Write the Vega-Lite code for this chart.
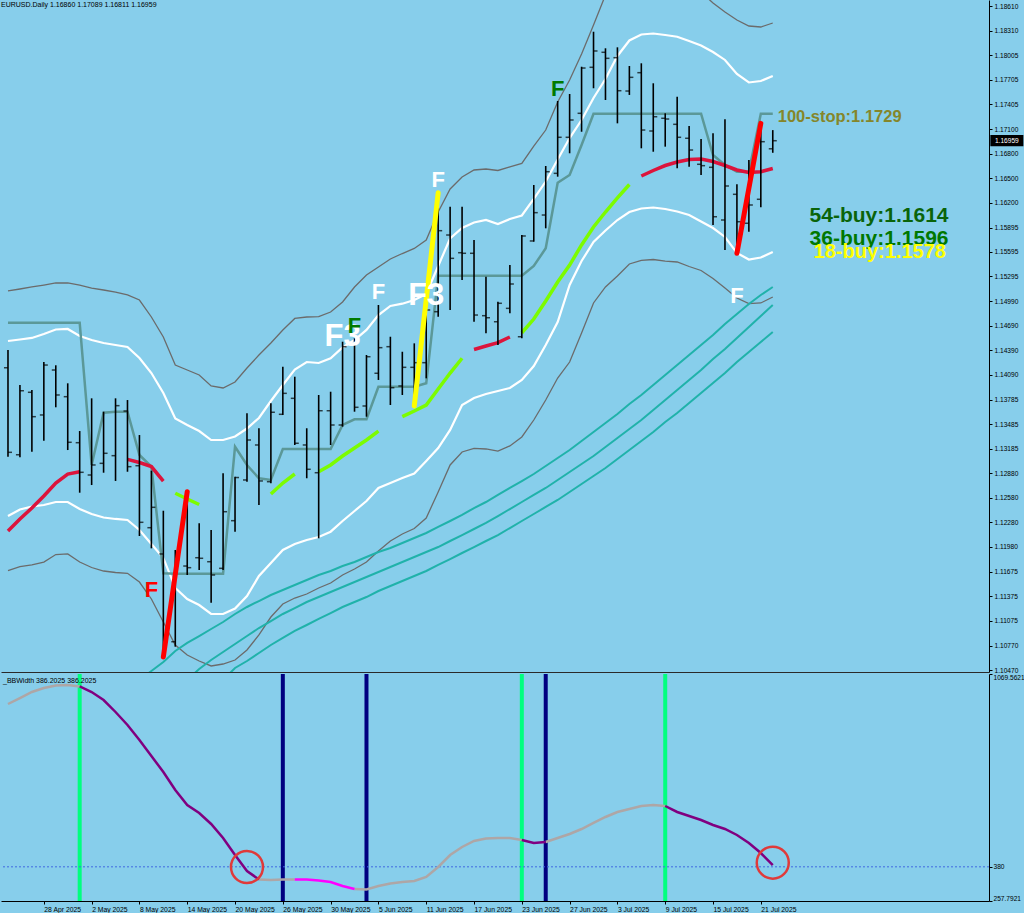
{
"$schema": "https://vega.github.io/schema/vega-lite/v6.json",
"background": "#87CEEB",
"padding": 0,
"spacing": 2,
"bounds": "flush",
"config": {"view": {"stroke": null}, "axis": {"labelFont": "Liberation Sans", "labelFontSize": 6.6, "labelColor": "#000000", "domainColor": "#000000", "tickColor": "#000000", "grid": false, "labelOverlap": false}, "text": {"font": "Liberation Sans"}},
"resolve": {"scale": {"x": "independent", "y": "independent"}},
"datasets": {
"bars": [
{"d":"2025-04-23","o":1.14176,"h":1.14393,"l":1.13085,"c":1.13139},
{"d":"2025-04-24","o":1.13110,"h":1.13964,"l":1.13080,"c":1.13894},
{"d":"2025-04-25","o":1.13875,"h":1.13903,"l":1.13147,"c":1.13576},
{"d":"2025-04-28","o":1.13597,"h":1.14246,"l":1.13281,"c":1.14209},
{"d":"2025-04-29","o":1.14148,"h":1.14206,"l":1.13691,"c":1.13842},
{"d":"2025-04-30","o":1.13821,"h":1.13985,"l":1.13167,"c":1.13262},
{"d":"2025-05-01","o":1.13257,"h":1.13400,"l":1.12644,"c":1.12894},
{"d":"2025-05-02","o":1.12861,"h":1.13801,"l":1.12738,"c":1.12984},
{"d":"2025-05-05","o":1.13004,"h":1.13637,"l":1.12889,"c":1.13127},
{"d":"2025-05-06","o":1.13098,"h":1.13801,"l":1.12788,"c":1.13711},
{"d":"2025-05-07","o":1.13645,"h":1.13780,"l":1.12901,"c":1.12963},
{"d":"2025-05-08","o":1.12975,"h":1.13351,"l":1.12113,"c":1.12281},
{"d":"2025-05-09","o":1.12215,"h":1.12914,"l":1.11962,"c":1.12465},
{"d":"2025-05-12","o":1.11893,"h":1.12423,"l":1.10630,"c":1.10879},
{"d":"2025-05-13","o":1.10817,"h":1.11942,"l":1.10756,"c":1.11819},
{"d":"2025-05-14","o":1.11745,"h":1.12656,"l":1.11635,"c":1.11725},
{"d":"2025-05-15","o":1.11847,"h":1.12269,"l":1.11696,"c":1.11840},
{"d":"2025-05-16","o":1.11798,"h":1.12187,"l":1.11296,"c":1.11635},
{"d":"2025-05-19","o":1.11717,"h":1.12882,"l":1.11696,"c":1.12411},
{"d":"2025-05-20","o":1.12301,"h":1.12840,"l":1.12166,"c":1.12830},
{"d":"2025-05-21","o":1.12800,"h":1.13617,"l":1.12779,"c":1.13290},
{"d":"2025-05-22","o":1.13229,"h":1.13434,"l":1.12493,"c":1.12788},
{"d":"2025-05-23","o":1.12779,"h":1.13740,"l":1.12759,"c":1.13630},
{"d":"2025-05-26","o":1.13605,"h":1.14189,"l":1.13597,"c":1.13862},
{"d":"2025-05-27","o":1.13801,"h":1.14066,"l":1.13229,"c":1.13250},
{"d":"2025-05-28","o":1.13229,"h":1.13434,"l":1.12821,"c":1.12931},
{"d":"2025-05-29","o":1.12889,"h":1.13842,"l":1.12085,"c":1.13649},
{"d":"2025-05-30","o":1.13649,"h":1.13882,"l":1.13229,"c":1.13474},
{"d":"2025-06-02","o":1.13474,"h":1.14495,"l":1.13453,"c":1.14434},
{"d":"2025-06-03","o":1.14463,"h":1.14537,"l":1.13637,"c":1.13691},
{"d":"2025-06-04","o":1.13707,"h":1.14332,"l":1.13576,"c":1.14311},
{"d":"2025-06-05","o":1.14108,"h":1.14945,"l":1.14026,"c":1.14422},
{"d":"2025-06-06","o":1.14434,"h":1.14556,"l":1.13719,"c":1.13931},
{"d":"2025-06-09","o":1.13952,"h":1.14372,"l":1.13842,"c":1.14181},
{"d":"2025-06-10","o":1.14181,"h":1.14475,"l":1.13707,"c":1.14238},
{"d":"2025-06-11","o":1.14238,"h":1.15006,"l":1.14046,"c":1.14884},
{"d":"2025-06-12","o":1.14863,"h":1.16320,"l":1.14802,"c":1.15856},
{"d":"2025-06-13","o":1.15803,"h":1.16150,"l":1.14884,"c":1.15517},
{"d":"2025-06-16","o":1.15586,"h":1.16150,"l":1.15251,"c":1.15579},
{"d":"2025-06-17","o":1.15579,"h":1.15742,"l":1.14740,"c":1.14822},
{"d":"2025-06-18","o":1.14814,"h":1.15292,"l":1.14598,"c":1.14789},
{"d":"2025-06-19","o":1.14740,"h":1.14985,"l":1.14455,"c":1.14966},
{"d":"2025-06-20","o":1.14904,"h":1.15435,"l":1.14843,"c":1.15202},
{"d":"2025-06-23","o":1.14556,"h":1.15803,"l":1.14537,"c":1.15791},
{"d":"2025-06-24","o":1.15730,"h":1.16416,"l":1.15721,"c":1.16077},
{"d":"2025-06-25","o":1.16048,"h":1.16649,"l":1.15885,"c":1.16579},
{"d":"2025-06-26","o":1.16559,"h":1.17446,"l":1.16518,"c":1.17001},
{"d":"2025-06-27","o":1.17001,"h":1.17532,"l":1.16805,"c":1.17213},
{"d":"2025-06-30","o":1.17295,"h":1.17866,"l":1.17069,"c":1.17850},
{"d":"2025-07-01","o":1.17859,"h":1.18295,"l":1.17602,"c":1.18059},
{"d":"2025-07-02","o":1.18043,"h":1.18092,"l":1.17458,"c":1.17969},
{"d":"2025-07-03","o":1.17977,"h":1.18104,"l":1.17172,"c":1.17572},
{"d":"2025-07-04","o":1.17568,"h":1.17875,"l":1.17520,"c":1.17736},
{"d":"2025-07-07","o":1.17793,"h":1.17908,"l":1.16866,"c":1.17090},
{"d":"2025-07-08","o":1.17078,"h":1.17663,"l":1.16824,"c":1.17253},
{"d":"2025-07-09","o":1.17234,"h":1.17295,"l":1.16886,"c":1.17225},
{"d":"2025-07-10","o":1.17160,"h":1.17499,"l":1.16621,"c":1.17001},
{"d":"2025-07-11","o":1.16989,"h":1.17139,"l":1.16640,"c":1.16845},
{"d":"2025-07-14","o":1.16670,"h":1.16980,"l":1.16539,"c":1.16653},
{"d":"2025-07-15","o":1.16633,"h":1.17050,"l":1.15926,"c":1.16027},
{"d":"2025-07-16","o":1.15987,"h":1.17222,"l":1.15619,"c":1.16404},
{"d":"2025-07-17","o":1.16302,"h":1.16425,"l":1.15579,"c":1.15966},
{"d":"2025-07-18","o":1.15947,"h":1.16723,"l":1.15844,"c":1.16171},
{"d":"2025-07-21","o":1.16241,"h":1.17172,"l":1.16143,"c":1.16947},
{"d":"2025-07-22","o":1.16860,"h":1.17089,"l":1.16811,"c":1.16959}
],
"bands": [
{"d":"2025-04-23","uw":1.14504,"lw":1.12358,"ug":1.15117,"lg":1.11690,"st":1.14728},
{"d":"2025-04-24","uw":1.14522,"lw":1.12438,"ug":1.15141,"lg":1.11739,"st":1.14728},
{"d":"2025-04-25","uw":1.14541,"lw":1.12475,"ug":1.15166,"lg":1.11758,"st":1.14728},
{"d":"2025-04-28","uw":1.14590,"lw":1.12493,"ug":1.15190,"lg":1.11794,"st":1.14728},
{"d":"2025-04-29","uw":1.14645,"lw":1.12530,"ug":1.15215,"lg":1.11886,"st":1.14728},
{"d":"2025-04-30","uw":1.14651,"lw":1.12530,"ug":1.15215,"lg":1.11893,"st":1.14728},
{"d":"2025-05-01","uw":1.14565,"lw":1.12444,"ug":1.15190,"lg":1.11794,"st":1.14728},
{"d":"2025-05-02","uw":1.14516,"lw":1.12383,"ug":1.15153,"lg":1.11727,"st":1.12984},
{"d":"2025-05-05","uw":1.14479,"lw":1.12340,"ug":1.15129,"lg":1.11684,"st":1.13625},
{"d":"2025-05-06","uw":1.14455,"lw":1.12322,"ug":1.15104,"lg":1.11666,"st":1.13637},
{"d":"2025-05-07","uw":1.14430,"lw":1.12309,"ug":1.15068,"lg":1.11656,"st":1.13637},
{"d":"2025-05-08","uw":1.14295,"lw":1.12187,"ug":1.15006,"lg":1.11549,"st":1.13106,"c1":1.10348},
{"d":"2025-05-09","uw":1.14111,"lw":1.12015,"ug":1.14798,"lg":1.11341,"st":1.12963,"c1":1.10458},
{"d":"2025-05-12","uw":1.13866,"lw":1.11844,"ug":1.14553,"lg":1.11059,"st":1.11656,"c1":1.10569},
{"d":"2025-05-13","uw":1.13554,"lw":1.11476,"ug":1.14209,"lg":1.10777,"st":1.11651,"c1":1.10703},
{"d":"2025-05-14","uw":1.13474,"lw":1.11341,"ug":1.14148,"lg":1.10654,"st":1.11651,"c1":1.10802,"c2":1.10348},
{"d":"2025-05-15","uw":1.13400,"lw":1.11267,"ug":1.14087,"lg":1.10581,"st":1.11651,"c1":1.10887,"c2":1.10483},
{"d":"2025-05-16","uw":1.13290,"lw":1.11157,"ug":1.13952,"lg":1.10520,"st":1.11651,"c1":1.10973,"c2":1.10593},
{"d":"2025-05-19","uw":1.13290,"lw":1.11157,"ug":1.13928,"lg":1.10544,"st":1.11651,"c1":1.11059,"c2":1.10691,"c3":1.10348},
{"d":"2025-05-20","uw":1.13333,"lw":1.11224,"ug":1.14001,"lg":1.10593,"st":1.13208,"c1":1.11157,"c2":1.10789,"c3":1.10495},
{"d":"2025-05-21","uw":1.13431,"lw":1.11378,"ug":1.14173,"lg":1.10716,"st":1.12984,"c1":1.11243,"c2":1.10887,"c3":1.10581},
{"d":"2025-05-22","uw":1.13560,"lw":1.11623,"ug":1.14332,"lg":1.10900,"st":1.12821,"c1":1.11316,"c2":1.10985,"c3":1.10679},
{"d":"2025-05-23","uw":1.13768,"lw":1.11782,"ug":1.14479,"lg":1.11120,"st":1.12800,"c1":1.11390,"c2":1.11071,"c3":1.10777},
{"d":"2025-05-26","uw":1.13964,"lw":1.11942,"ug":1.14639,"lg":1.11280,"st":1.13180,"c1":1.11451,"c2":1.11157,"c3":1.10863},
{"d":"2025-05-27","uw":1.14154,"lw":1.12015,"ug":1.14780,"lg":1.11353,"st":1.13180,"c1":1.11513,"c2":1.11230,"c3":1.10949},
{"d":"2025-05-28","uw":1.14246,"lw":1.12064,"ug":1.14798,"lg":1.11402,"st":1.13180,"c1":1.11574,"c2":1.11304,"c3":1.11022},
{"d":"2025-05-29","uw":1.14234,"lw":1.12101,"ug":1.14802,"lg":1.11476,"st":1.13180,"c1":1.11635,"c2":1.11365,"c3":1.11096},
{"d":"2025-05-30","uw":1.14292,"lw":1.12166,"ug":1.14859,"lg":1.11537,"st":1.13180,"c1":1.11684,"c2":1.11427,"c3":1.11169},
{"d":"2025-06-02","uw":1.14424,"lw":1.12297,"ug":1.14982,"lg":1.11635,"st":1.13474,"c1":1.11745,"c2":1.11488,"c3":1.11243},
{"d":"2025-06-03","uw":1.14516,"lw":1.12420,"ug":1.15166,"lg":1.11709,"st":1.13544,"c1":1.11794,"c2":1.11549,"c3":1.11304},
{"d":"2025-06-04","uw":1.14639,"lw":1.12542,"ug":1.15313,"lg":1.11794,"st":1.13544,"c1":1.11856,"c2":1.11611,"c3":1.11365},
{"d":"2025-06-05","uw":1.14822,"lw":1.12702,"ug":1.15411,"lg":1.11929,"st":1.13943,"c1":1.11917,"c2":1.11672,"c3":1.11439},
{"d":"2025-06-06","uw":1.14933,"lw":1.12763,"ug":1.15509,"lg":1.12052,"st":1.13943,"c1":1.11966,"c2":1.11733,"c3":1.11500},
{"d":"2025-06-09","uw":1.14961,"lw":1.12824,"ug":1.15576,"lg":1.12138,"st":1.13943,"c1":1.12027,"c2":1.11794,"c3":1.11562},
{"d":"2025-06-10","uw":1.15006,"lw":1.12879,"ug":1.15638,"lg":1.12205,"st":1.13943,"c1":1.12089,"c2":1.11856,"c3":1.11623},
{"d":"2025-06-11","uw":1.15080,"lw":1.13033,"ug":1.15742,"lg":1.12334,"st":1.13985,"c1":1.12150,"c2":1.11917,"c3":1.11684},
{"d":"2025-06-12","uw":1.15423,"lw":1.13192,"ug":1.16085,"lg":1.12653,"st":1.15303,"c1":1.12224,"c2":1.11978,"c3":1.11758},
{"d":"2025-06-13","uw":1.15760,"lw":1.13413,"ug":1.16367,"lg":1.12984,"st":1.15303,"c1":1.12297,"c2":1.12052,"c3":1.11831},
{"d":"2025-06-16","uw":1.15889,"lw":1.13719,"ug":1.16514,"lg":1.13143,"st":1.15303,"c1":1.12371,"c2":1.12125,"c3":1.11905},
{"d":"2025-06-17","uw":1.15956,"lw":1.13805,"ug":1.16600,"lg":1.13188,"st":1.15303,"c1":1.12456,"c2":1.12199,"c3":1.11978},
{"d":"2025-06-18","uw":1.15987,"lw":1.13854,"ug":1.16612,"lg":1.13180,"st":1.15303,"c1":1.12530,"c2":1.12273,"c3":1.12052},
{"d":"2025-06-19","uw":1.15938,"lw":1.13891,"ug":1.16594,"lg":1.13155,"st":1.15303,"c1":1.12616,"c2":1.12358,"c3":1.12125},
{"d":"2025-06-20","uw":1.15999,"lw":1.13928,"ug":1.16637,"lg":1.13217,"st":1.15303,"c1":1.12702,"c2":1.12444,"c3":1.12211},
{"d":"2025-06-23","uw":1.16042,"lw":1.14026,"ug":1.16680,"lg":1.13327,"st":1.15303,"c1":1.12787,"c2":1.12530,"c3":1.12297},
{"d":"2025-06-24","uw":1.16245,"lw":1.14197,"ug":1.16894,"lg":1.13535,"st":1.15423,"c1":1.12873,"c2":1.12616,"c3":1.12383},
{"d":"2025-06-25","uw":1.16459,"lw":1.14455,"ug":1.17090,"lg":1.13780,"st":1.15640,"c1":1.12971,"c2":1.12702,"c3":1.12469},
{"d":"2025-06-26","uw":1.16729,"lw":1.14737,"ug":1.17434,"lg":1.14050,"st":1.16444,"c1":1.13069,"c2":1.12800,"c3":1.12555},
{"d":"2025-06-27","uw":1.16992,"lw":1.15190,"ug":1.17703,"lg":1.14246,"st":1.16539,"c1":1.13167,"c2":1.12898,"c3":1.12653},
{"d":"2025-06-30","uw":1.17213,"lw":1.15484,"ug":1.18022,"lg":1.14602,"st":1.16906,"c1":1.13278,"c2":1.12996,"c3":1.12751},
{"d":"2025-07-01","uw":1.17483,"lw":1.15717,"ug":1.18378,"lg":1.14970,"st":1.17290,"c1":1.13388,"c2":1.13094,"c3":1.12849},
{"d":"2025-07-02","uw":1.17716,"lw":1.15858,"ug":1.18745,"lg":1.15166,"st":1.17290,"c1":1.13498,"c2":1.13204,"c3":1.12947},
{"d":"2025-07-03","uw":1.17998,"lw":1.15987,"ug":1.19052,"lg":1.15301,"st":1.17290,"c1":1.13609,"c2":1.13315,"c3":1.13057},
{"d":"2025-07-04","uw":1.18188,"lw":1.16085,"ug":1.19236,"lg":1.15448,"st":1.17290,"c1":1.13731,"c2":1.13425,"c3":1.13167},
{"d":"2025-07-07","uw":1.18261,"lw":1.16128,"ug":1.19297,"lg":1.15493,"st":1.17290,"c1":1.13842,"c2":1.13535,"c3":1.13278},
{"d":"2025-07-08","uw":1.18273,"lw":1.16140,"ug":1.19297,"lg":1.15503,"st":1.17290,"c1":1.13964,"c2":1.13658,"c3":1.13388},
{"d":"2025-07-09","uw":1.18255,"lw":1.16122,"ug":1.19272,"lg":1.15484,"st":1.17290,"c1":1.14087,"c2":1.13780,"c3":1.13511},
{"d":"2025-07-10","uw":1.18234,"lw":1.16091,"ug":1.19174,"lg":1.15472,"st":1.17290,"c1":1.14209,"c2":1.13903,"c3":1.13621},
{"d":"2025-07-11","uw":1.18181,"lw":1.16048,"ug":1.18990,"lg":1.15417,"st":1.17290,"c1":1.14332,"c2":1.14026,"c3":1.13744},
{"d":"2025-07-14","uw":1.18126,"lw":1.15969,"ug":1.18782,"lg":1.15368,"st":1.17290,"c1":1.14455,"c2":1.14148,"c3":1.13866},
{"d":"2025-07-15","uw":1.18047,"lw":1.15889,"ug":1.18647,"lg":1.15270,"st":1.16784,"c1":1.14577,"c2":1.14283,"c3":1.13989},
{"d":"2025-07-16","uw":1.17949,"lw":1.15779,"ug":1.18537,"lg":1.15153,"st":1.16661,"c1":1.14712,"c2":1.14406,"c3":1.14111},
{"d":"2025-07-17","uw":1.17777,"lw":1.15583,"ug":1.18439,"lg":1.15031,"st":1.16579,"c1":1.14835,"c2":1.14541,"c3":1.14246},
{"d":"2025-07-18","uw":1.17673,"lw":1.15503,"ug":1.18365,"lg":1.14963,"st":1.16579,"c1":1.14957,"c2":1.14675,"c3":1.14369},
{"d":"2025-07-21","uw":1.17691,"lw":1.15527,"ug":1.18353,"lg":1.14970,"st":1.17290,"c1":1.15068,"c2":1.14810,"c3":1.14491},
{"d":"2025-07-22","uw":1.17752,"lw":1.15595,"ug":1.18402,"lg":1.15043,"st":1.17290,"c1":1.15166,"c2":1.14945,"c3":1.14614}
],
"ma": [
{"d":"2025-04-23","p":1.12175,"seg":"A","trend":"bear"},
{"d":"2025-04-24","p":1.12322,"seg":"A","trend":"bear"},
{"d":"2025-04-25","p":1.12456,"seg":"A","trend":"bear"},
{"d":"2025-04-28","p":1.12604,"seg":"A","trend":"bear"},
{"d":"2025-04-29","p":1.12763,"seg":"A","trend":"bear"},
{"d":"2025-04-30","p":1.12873,"seg":"A","trend":"bear"},
{"d":"2025-05-01","p":1.12901,"seg":"A","trend":"bear"},
{"d":"2025-05-07","p":1.13053,"seg":"B","trend":"bear"},
{"d":"2025-05-08","p":1.13014,"seg":"B","trend":"bear"},
{"d":"2025-05-09","p":1.12965,"seg":"B","trend":"bear"},
{"d":"2025-05-12","p":1.12787,"seg":"B","trend":"bear"},
{"d":"2025-05-13","p":1.12637,"seg":"C","trend":"bull"},
{"d":"2025-05-14","p":1.12567,"seg":"C","trend":"bull"},
{"d":"2025-05-15","p":1.12499,"seg":"C","trend":"bull"},
{"d":"2025-05-23","p":1.12628,"seg":"D","trend":"bull"},
{"d":"2025-05-26","p":1.12763,"seg":"D","trend":"bull"},
{"d":"2025-05-27","p":1.12873,"seg":"D","trend":"bull"},
{"d":"2025-05-29","p":1.12901,"seg":"E","trend":"bull"},
{"d":"2025-05-30","p":1.12984,"seg":"E","trend":"bull"},
{"d":"2025-06-02","p":1.13094,"seg":"E","trend":"bull"},
{"d":"2025-06-03","p":1.13192,"seg":"E","trend":"bull"},
{"d":"2025-06-04","p":1.13290,"seg":"E","trend":"bull"},
{"d":"2025-06-05","p":1.13400,"seg":"E","trend":"bull"},
{"d":"2025-06-09","p":1.13576,"seg":"F","trend":"bull"},
{"d":"2025-06-10","p":1.13646,"seg":"F","trend":"bull"},
{"d":"2025-06-11","p":1.13719,"seg":"F","trend":"bull"},
{"d":"2025-06-12","p":1.13915,"seg":"F","trend":"bull"},
{"d":"2025-06-13","p":1.14111,"seg":"F","trend":"bull"},
{"d":"2025-06-16","p":1.14292,"seg":"F","trend":"bull"},
{"d":"2025-06-17","p":1.14400,"seg":"G","trend":"bear"},
{"d":"2025-06-18","p":1.14442,"seg":"G","trend":"bear"},
{"d":"2025-06-19","p":1.14483,"seg":"G","trend":"bear"},
{"d":"2025-06-20","p":1.14553,"seg":"G","trend":"bear"},
{"d":"2025-06-23","p":1.14605,"seg":"H","trend":"bull"},
{"d":"2025-06-24","p":1.14773,"seg":"H","trend":"bull"},
{"d":"2025-06-25","p":1.14994,"seg":"H","trend":"bull"},
{"d":"2025-06-26","p":1.15227,"seg":"H","trend":"bull"},
{"d":"2025-06-27","p":1.15435,"seg":"H","trend":"bull"},
{"d":"2025-06-30","p":1.15681,"seg":"H","trend":"bull"},
{"d":"2025-07-01","p":1.15901,"seg":"H","trend":"bull"},
{"d":"2025-07-02","p":1.16085,"seg":"H","trend":"bull"},
{"d":"2025-07-03","p":1.16257,"seg":"H","trend":"bull"},
{"d":"2025-07-04","p":1.16422,"seg":"H","trend":"bull"},
{"d":"2025-07-07","p":1.16526,"seg":"I","trend":"bear"},
{"d":"2025-07-08","p":1.16594,"seg":"I","trend":"bear"},
{"d":"2025-07-09","p":1.16655,"seg":"I","trend":"bear"},
{"d":"2025-07-10","p":1.16698,"seg":"I","trend":"bear"},
{"d":"2025-07-11","p":1.16729,"seg":"I","trend":"bear"},
{"d":"2025-07-14","p":1.16735,"seg":"I","trend":"bear"},
{"d":"2025-07-15","p":1.16704,"seg":"I","trend":"bear"},
{"d":"2025-07-16","p":1.16655,"seg":"I","trend":"bear"},
{"d":"2025-07-17","p":1.16600,"seg":"I","trend":"bear"},
{"d":"2025-07-18","p":1.16569,"seg":"I","trend":"bear"},
{"d":"2025-07-21","p":1.16579,"seg":"I","trend":"bear"},
{"d":"2025-07-22","p":1.16618,"seg":"I","trend":"bear"}
],
"zig": [
{"d":"2025-05-12","p":1.10630,"g":"z1"},
{"d":"2025-05-14","p":1.12656,"g":"z1"},
{"d":"2025-06-10","p":1.13707,"g":"z2"},
{"d":"2025-06-12","p":1.16320,"g":"z2"},
{"d":"2025-07-17","p":1.15579,"g":"z3"},
{"d":"2025-07-21","p":1.17172,"g":"z3"}
],
"marks": [
{"d":"2025-05-09","p":1.11451,"t":"F","g":"rF"},
{"d":"2025-06-05","p":1.15104,"t":"F","g":"wF"},
{"d":"2025-06-12","p":1.16477,"t":"F","g":"wF"},
{"d":"2025-07-17","p":1.15055,"t":"F","g":"wF"},
{"d":"2025-06-02","p":1.14553,"t":"F3","g":"wF3"},
{"d":"2025-06-11","p":1.15059,"t":"F3","g":"wF3"},
{"d":"2025-06-03","p":1.14691,"t":"F","g":"gF"},
{"d":"2025-06-26","p":1.17593,"t":"F","g":"gF"}
],
"levels": [
{"d":"2025-07-22","p":1.17244,"t":"100-stop:1.1729","g":"stop"},
{"d":"2025-07-25","p":1.16042,"t":"54-buy:1.1614","g":"b54"},
{"d":"2025-07-25","p":1.15760,"t":"36-buy:1.1596","g":"b36"},
{"d":"2025-07-25","p":1.15595,"t":"18-buy:1.1578","g":"b18"}
],
"info": [
{"d":"2025-04-23","p":1.18623,"t":"EURUSD.Daily  1.16860 1.17089 1.16811 1.16959","g":"head"},
{"d":"2025-08-15","p":1.16959,"t":"1.16959","g":"last"}
],
"bbw": [
{"d":"2025-04-23","v":962.3,"s":"flat","seg":1},
{"d":"2025-04-24","v":983.7,"s":"flat","seg":1},
{"d":"2025-04-25","v":1005.2,"s":"flat","seg":1},
{"d":"2025-04-28","v":1019.5,"s":"flat","seg":1},
{"d":"2025-04-29","v":1028.4,"s":"flat","seg":1},
{"d":"2025-04-30","v":1030.2,"s":"flat","seg":1},
{"d":"2025-05-01","v":1024.9,"s":"flat","seg":1},
{"d":"2025-05-01","v":1024.9,"s":"down","seg":2},
{"d":"2025-05-02","v":1005.2,"s":"down","seg":2},
{"d":"2025-05-05","v":976.6,"s":"down","seg":2},
{"d":"2025-05-06","v":933.7,"s":"down","seg":2},
{"d":"2025-05-07","v":887.2,"s":"down","seg":2},
{"d":"2025-05-08","v":833.5,"s":"down","seg":2},
{"d":"2025-05-09","v":776.3,"s":"down","seg":2},
{"d":"2025-05-12","v":719.1,"s":"down","seg":2},
{"d":"2025-05-13","v":654.7,"s":"down","seg":2},
{"d":"2025-05-14","v":601.1,"s":"down","seg":2},
{"d":"2025-05-15","v":572.5,"s":"down","seg":2},
{"d":"2025-05-16","v":533.2,"s":"down","seg":2},
{"d":"2025-05-19","v":483.1,"s":"down","seg":2},
{"d":"2025-05-20","v":422.3,"s":"down","seg":2},
{"d":"2025-05-21","v":365.1,"s":"down","seg":2},
{"d":"2025-05-22","v":334.7,"s":"down","seg":2},
{"d":"2025-05-22","v":334.7,"s":"flat","seg":3},
{"d":"2025-05-23","v":332.9,"s":"flat","seg":3},
{"d":"2025-05-26","v":334.7,"s":"flat","seg":3},
{"d":"2025-05-27","v":334.7,"s":"flat","seg":3},
{"d":"2025-05-27","v":334.7,"s":"squeeze","seg":4},
{"d":"2025-05-28","v":334.7,"s":"squeeze","seg":4},
{"d":"2025-05-29","v":331.1,"s":"squeeze","seg":4},
{"d":"2025-05-30","v":325.7,"s":"squeeze","seg":4},
{"d":"2025-06-02","v":311.4,"s":"squeeze","seg":4},
{"d":"2025-06-03","v":300.7,"s":"squeeze","seg":4},
{"d":"2025-06-03","v":300.7,"s":"flat","seg":5},
{"d":"2025-06-04","v":298.9,"s":"flat","seg":5},
{"d":"2025-06-05","v":311.4,"s":"flat","seg":5},
{"d":"2025-06-06","v":320.4,"s":"flat","seg":5},
{"d":"2025-06-09","v":325.7,"s":"flat","seg":5},
{"d":"2025-06-10","v":329.3,"s":"flat","seg":5},
{"d":"2025-06-11","v":343.6,"s":"flat","seg":5},
{"d":"2025-06-12","v":379.4,"s":"flat","seg":5},
{"d":"2025-06-13","v":422.3,"s":"flat","seg":5},
{"d":"2025-06-16","v":450.9,"s":"flat","seg":5},
{"d":"2025-06-17","v":472.4,"s":"flat","seg":5},
{"d":"2025-06-18","v":481.3,"s":"flat","seg":5},
{"d":"2025-06-19","v":483.1,"s":"flat","seg":5},
{"d":"2025-06-20","v":483.1,"s":"flat","seg":5},
{"d":"2025-06-23","v":475.9,"s":"flat","seg":5},
{"d":"2025-06-23","v":475.9,"s":"down","seg":6},
{"d":"2025-06-24","v":465.2,"s":"down","seg":6},
{"d":"2025-06-25","v":468.8,"s":"down","seg":6},
{"d":"2025-06-25","v":468.8,"s":"flat","seg":7},
{"d":"2025-06-26","v":483.1,"s":"flat","seg":7},
{"d":"2025-06-27","v":497.4,"s":"flat","seg":7},
{"d":"2025-06-30","v":515.3,"s":"flat","seg":7},
{"d":"2025-07-01","v":536.8,"s":"flat","seg":7},
{"d":"2025-07-02","v":558.2,"s":"flat","seg":7},
{"d":"2025-07-03","v":576.1,"s":"flat","seg":7},
{"d":"2025-07-04","v":586.8,"s":"flat","seg":7},
{"d":"2025-07-07","v":597.5,"s":"flat","seg":7},
{"d":"2025-07-08","v":601.1,"s":"flat","seg":7},
{"d":"2025-07-09","v":597.5,"s":"flat","seg":7},
{"d":"2025-07-09","v":597.5,"s":"down","seg":8},
{"d":"2025-07-10","v":576.1,"s":"down","seg":8},
{"d":"2025-07-11","v":561.8,"s":"down","seg":8},
{"d":"2025-07-14","v":547.5,"s":"down","seg":8},
{"d":"2025-07-15","v":529.6,"s":"down","seg":8},
{"d":"2025-07-16","v":515.3,"s":"down","seg":8},
{"d":"2025-07-17","v":493.8,"s":"down","seg":8},
{"d":"2025-07-18","v":465.2,"s":"down","seg":8},
{"d":"2025-07-21","v":429.4,"s":"down","seg":8},
{"d":"2025-07-22","v":386.2,"s":"down","seg":8}
],
"signals": [
{"d":"2025-05-01","t":"g"},
{"d":"2025-06-23","t":"g"},
{"d":"2025-07-09","t":"g"},
{"d":"2025-05-26","t":"n"},
{"d":"2025-06-04","t":"n"},
{"d":"2025-06-25","t":"n"}
],
"rings": [
{"d":"2025-05-21","v":379.4},
{"d":"2025-07-22","v":395.0}
],
"sub": [
{"d":"2025-04-23","v":1044.5,"t":"_BBWidth 386.2025 386.2025"}
],
"lvl": [{"v":380}]
},
"vconcat": [
{
"width": 988, "height": 672,
"encoding": {"x": {"field": "d", "type": "ordinal", "title": null, "scale": {"type": "point", "padding": 0.34, "align": 0.86, "domain": ["2025-04-23","2025-04-24","2025-04-25","2025-04-28","2025-04-29","2025-04-30","2025-05-01","2025-05-02","2025-05-05","2025-05-06","2025-05-07","2025-05-08","2025-05-09","2025-05-12","2025-05-13","2025-05-14","2025-05-15","2025-05-16","2025-05-19","2025-05-20","2025-05-21","2025-05-22","2025-05-23","2025-05-26","2025-05-27","2025-05-28","2025-05-29","2025-05-30","2025-06-02","2025-06-03","2025-06-04","2025-06-05","2025-06-06","2025-06-09","2025-06-10","2025-06-11","2025-06-12","2025-06-13","2025-06-16","2025-06-17","2025-06-18","2025-06-19","2025-06-20","2025-06-23","2025-06-24","2025-06-25","2025-06-26","2025-06-27","2025-06-30","2025-07-01","2025-07-02","2025-07-03","2025-07-04","2025-07-07","2025-07-08","2025-07-09","2025-07-10","2025-07-11","2025-07-14","2025-07-15","2025-07-16","2025-07-17","2025-07-18","2025-07-21","2025-07-22","2025-07-23","2025-07-24","2025-07-25","2025-07-28","2025-07-29","2025-07-30","2025-07-31","2025-08-01","2025-08-04","2025-08-05","2025-08-06","2025-08-07","2025-08-08","2025-08-11","2025-08-12","2025-08-13","2025-08-14","2025-08-15"]}, "axis": {"orient": "bottom", "title": null, "labels": false, "ticks": false, "domain": true, "domainColor": "#2A2A2A"}}},
"layer": [
{"data": {"name": "bands"}, "transform": [{"fold": ["ug", "lg"]}],
 "mark": {"type": "line", "color": "#6B6B6B", "strokeWidth": 1.3, "clip": true},
 "encoding": {"y": {"field": "value", "type": "quantitative", "title": null, "scale": {"domain": [1.10446, 1.18684], "nice": false, "zero": false},
   "axis": {"orient": "right", "title": null, "values": [1.18610,1.18310,1.18005,1.17705,1.17405,1.17100,1.16800,1.16500,1.16200,1.15895,1.15595,1.15295,1.14990,1.14690,1.14390,1.14090,1.13785,1.13485,1.13185,1.12880,1.12580,1.12280,1.11980,1.11675,1.11375,1.11075,1.10770,1.10470], "tickCount": 200, "format": ".5f", "tickSize": 3, "labelPadding": 2, "labelOverlap": false, "labelFlush": false, "labelBound": false}},
  "detail": {"field": "key"}}},
{"data": {"name": "bands"}, "transform": [{"fold": ["uw", "lw"]}],
 "mark": {"type": "line", "color": "#FFFFFF", "strokeWidth": 2.2, "clip": true},
 "encoding": {"y": {"field": "value", "type": "quantitative", "title": null}, "detail": {"field": "key"}}},
{"data": {"name": "bands"}, "transform": [{"fold": ["c1", "c2", "c3"]}, {"filter": "isValid(datum.value)"}],
 "mark": {"type": "line", "color": "#20B2AA", "strokeWidth": 2, "clip": true},
 "encoding": {"y": {"field": "value", "type": "quantitative", "title": null}, "detail": {"field": "key"}}},
{"data": {"name": "bands"},
 "mark": {"type": "line", "color": "#5B9898", "strokeWidth": 2.5, "clip": true},
 "encoding": {"y": {"field": "st", "type": "quantitative", "title": null}}},
{"data": {"name": "ma"}, "transform": [{"filter": "datum.trend == 'bear'"}],
 "mark": {"type": "line", "color": "#DC143C", "strokeWidth": 3.5, "clip": true},
 "encoding": {"y": {"field": "p", "type": "quantitative", "title": null}, "detail": {"field": "seg"}}},
{"data": {"name": "ma"}, "transform": [{"filter": "datum.trend == 'bull'"}],
 "mark": {"type": "line", "color": "#7CFC00", "strokeWidth": 3.5, "clip": true},
 "encoding": {"y": {"field": "p", "type": "quantitative", "title": null}, "detail": {"field": "seg"}}},
{"data": {"name": "bars"},
 "mark": {"type": "rule", "color": "#000000", "strokeWidth": 1.6},
 "encoding": {"y": {"field": "l", "type": "quantitative", "title": null}, "y2": {"field": "h"}}},
{"data": {"name": "bars"},
 "mark": {"type": "tick", "orient": "horizontal", "color": "#000000", "size": 4, "thickness": 1.5, "xOffset": -2},
 "encoding": {"y": {"field": "o", "type": "quantitative", "title": null}}},
{"data": {"name": "bars"},
 "mark": {"type": "tick", "orient": "horizontal", "color": "#000000", "size": 4, "thickness": 1.5, "xOffset": 2},
 "encoding": {"y": {"field": "c", "type": "quantitative", "title": null}}},
{"data": {"name": "zig"}, "transform": [{"filter": "datum.g != 'z2'"}],
 "mark": {"type": "line", "color": "#FF0000", "strokeWidth": 5, "strokeCap": "round"},
 "encoding": {"y": {"field": "p", "type": "quantitative", "title": null}, "detail": {"field": "g"}}},
{"data": {"name": "zig"}, "transform": [{"filter": "datum.g == 'z2'"}],
 "mark": {"type": "line", "color": "#FFFF00", "strokeWidth": 5, "strokeCap": "round"},
 "encoding": {"y": {"field": "p", "type": "quantitative", "title": null}, "detail": {"field": "g"}}},
{"data": {"name": "marks"}, "transform": [{"filter": "datum.g == 'wF'"}],
 "mark": {"type": "text", "color": "#FFFFFF", "font": "Liberation Sans", "fontWeight": "bold", "fontSize": 22, "align": "center", "baseline": "middle"},
 "encoding": {"y": {"field": "p", "type": "quantitative", "title": null}, "text": {"field": "t"}}},
{"data": {"name": "marks"}, "transform": [{"filter": "datum.g == 'wF3'"}],
 "mark": {"type": "text", "color": "#FFFFFF", "font": "Liberation Sans", "fontWeight": "bold", "fontSize": 31, "align": "center", "baseline": "middle"},
 "encoding": {"y": {"field": "p", "type": "quantitative", "title": null}, "text": {"field": "t"}}},
{"data": {"name": "marks"}, "transform": [{"filter": "datum.g == 'gF'"}],
 "mark": {"type": "text", "color": "#007A00", "font": "Liberation Sans", "fontWeight": "bold", "fontSize": 22, "align": "center", "baseline": "middle"},
 "encoding": {"y": {"field": "p", "type": "quantitative", "title": null}, "text": {"field": "t"}}},
{"data": {"name": "marks"}, "transform": [{"filter": "datum.g == 'rF'"}],
 "mark": {"type": "text", "color": "#FF0000", "font": "Liberation Sans", "fontWeight": "bold", "fontSize": 22, "align": "center", "baseline": "middle"},
 "encoding": {"y": {"field": "p", "type": "quantitative", "title": null}, "text": {"field": "t"}}},
{"data": {"name": "levels"}, "transform": [{"filter": "datum.g == 'stop'"}],
 "mark": {"type": "text", "color": "#85862A", "fontWeight": "bold", "fontSize": 16.5, "align": "left", "baseline": "middle", "dx": 5},
 "encoding": {"y": {"field": "p", "type": "quantitative", "title": null}, "text": {"field": "t"}}},
{"data": {"name": "levels"}, "transform": [{"filter": "datum.g == 'b54'"}],
 "mark": {"type": "text", "color": "#0A640A", "fontWeight": "bold", "fontSize": 21, "align": "left", "baseline": "middle", "dx": 1},
 "encoding": {"y": {"field": "p", "type": "quantitative", "title": null}, "text": {"field": "t"}}},
{"data": {"name": "levels"}, "transform": [{"filter": "datum.g == 'b36'"}],
 "mark": {"type": "text", "color": "#007800", "fontWeight": "bold", "fontSize": 21, "align": "left", "baseline": "middle", "dx": 1},
 "encoding": {"y": {"field": "p", "type": "quantitative", "title": null}, "text": {"field": "t"}}},
{"data": {"name": "levels"}, "transform": [{"filter": "datum.g == 'b18'"}],
 "mark": {"type": "text", "color": "#FFFF00", "fontWeight": "bold", "fontSize": 20, "align": "left", "baseline": "middle", "dx": 5},
 "encoding": {"y": {"field": "p", "type": "quantitative", "title": null}, "text": {"field": "t"}}},
{"data": {"name": "info"}, "transform": [{"filter": "datum.g == 'head'"}],
 "mark": {"type": "text", "color": "#000000", "fontSize": 7, "align": "left", "baseline": "middle", "dx": -7},
 "encoding": {"y": {"field": "p", "type": "quantitative", "title": null}, "text": {"field": "t"}}},
{"data": {"name": "info"}, "transform": [{"filter": "datum.g == 'last'"}],
 "mark": {"type": "point", "shape": "M-1,-0.34L1,-0.34L1,0.34L-1,0.34Z", "filled": true, "color": "#000000", "opacity": 1, "size": 1089, "xOffset": 19},
 "encoding": {"y": {"field": "p", "type": "quantitative", "title": null}}},
{"data": {"name": "info"}, "transform": [{"filter": "datum.g == 'last'"}],
 "mark": {"type": "text", "color": "#FFFFFF", "fontSize": 6.6, "align": "center", "baseline": "middle", "dx": 19},
 "encoding": {"y": {"field": "p", "type": "quantitative", "title": null}, "text": {"field": "t"}}}
]
},
{
"width": 988, "height": 227,
"layer": [
{"data": {"name": "signals"}, "transform": [{"filter": "datum.t == 'g'"}],
 "mark": {"type": "rule", "color": "#00FF7F", "strokeWidth": 4},
 "encoding": {"x": {"field": "d", "type": "ordinal", "title": null, "scale": {"type": "point", "padding": 0.34, "align": 0.86, "domain": ["2025-04-23","2025-04-24","2025-04-25","2025-04-28","2025-04-29","2025-04-30","2025-05-01","2025-05-02","2025-05-05","2025-05-06","2025-05-07","2025-05-08","2025-05-09","2025-05-12","2025-05-13","2025-05-14","2025-05-15","2025-05-16","2025-05-19","2025-05-20","2025-05-21","2025-05-22","2025-05-23","2025-05-26","2025-05-27","2025-05-28","2025-05-29","2025-05-30","2025-06-02","2025-06-03","2025-06-04","2025-06-05","2025-06-06","2025-06-09","2025-06-10","2025-06-11","2025-06-12","2025-06-13","2025-06-16","2025-06-17","2025-06-18","2025-06-19","2025-06-20","2025-06-23","2025-06-24","2025-06-25","2025-06-26","2025-06-27","2025-06-30","2025-07-01","2025-07-02","2025-07-03","2025-07-04","2025-07-07","2025-07-08","2025-07-09","2025-07-10","2025-07-11","2025-07-14","2025-07-15","2025-07-16","2025-07-17","2025-07-18","2025-07-21","2025-07-22","2025-07-23","2025-07-24","2025-07-25","2025-07-28","2025-07-29","2025-07-30","2025-07-31","2025-08-01","2025-08-04","2025-08-05","2025-08-06","2025-08-07","2025-08-08","2025-08-11","2025-08-12","2025-08-13","2025-08-14","2025-08-15"]},
   "axis": {"orient": "bottom", "title": null, "values": ["2025-04-28","2025-05-02","2025-05-08","2025-05-14","2025-05-20","2025-05-26","2025-05-30","2025-06-05","2025-06-11","2025-06-17","2025-06-23","2025-06-27","2025-07-03","2025-07-09","2025-07-15","2025-07-21"], "labelExpr": "utcFormat(toDate(datum.value), '%-d %b %Y')", "labelAlign": "left", "labelBaseline": "top", "labelAngle": 0, "labelPadding": 2, "labelFontSize": 6.8, "tickSize": 3, "labelOverlap": false}}}},
{"data": {"name": "signals"}, "transform": [{"filter": "datum.t == 'n'"}],
 "mark": {"type": "rule", "color": "#000080", "strokeWidth": 4},
 "encoding": {"x": {"field": "d", "type": "ordinal", "title": null}}},
{"data": {"name": "lvl"},
 "mark": {"type": "rule", "color": "#4169E1", "strokeWidth": 1, "strokeDash": [2, 2]},
 "encoding": {"y": {"field": "v", "type": "quantitative", "title": null, "scale": {"domain": [257.7921, 1069.5621], "nice": false, "zero": false},
   "axis": {"orient": "right", "title": null, "values": [1069.5621, 380, 257.7921], "tickCount": 50, "labelExpr": "datum.value == 380 ? '380' : format(datum.value, '.4f')", "labelFlush": true, "tickSize": 3, "labelPadding": 1, "labelOverlap": false}}}},
{"data": {"name": "bbw"}, "transform": [{"filter": "datum.s == 'flat'"}],
 "mark": {"type": "line", "color": "#AEA6A6", "strokeWidth": 2.5},
 "encoding": {"x": {"field": "d", "type": "ordinal", "title": null}, "y": {"field": "v", "type": "quantitative", "title": null}, "detail": {"field": "seg"}}},
{"data": {"name": "bbw"}, "transform": [{"filter": "datum.s == 'down'"}],
 "mark": {"type": "line", "color": "#800080", "strokeWidth": 2.5},
 "encoding": {"x": {"field": "d", "type": "ordinal", "title": null}, "y": {"field": "v", "type": "quantitative", "title": null}, "detail": {"field": "seg"}}},
{"data": {"name": "bbw"}, "transform": [{"filter": "datum.s == 'squeeze'"}],
 "mark": {"type": "line", "color": "#FF00FF", "strokeWidth": 2.5},
 "encoding": {"x": {"field": "d", "type": "ordinal", "title": null}, "y": {"field": "v", "type": "quantitative", "title": null}, "detail": {"field": "seg"}}},
{"data": {"name": "rings"},
 "mark": {"type": "point", "shape": "circle", "filled": false, "color": "#E03A3A", "strokeWidth": 2.5, "size": 1024, "opacity": 1},
 "encoding": {"x": {"field": "d", "type": "ordinal", "title": null}, "y": {"field": "v", "type": "quantitative", "title": null}}},
{"data": {"name": "sub"},
 "mark": {"type": "text", "color": "#000000", "fontSize": 7, "align": "left", "baseline": "middle", "dx": -5},
 "encoding": {"x": {"field": "d", "type": "ordinal", "title": null}, "y": {"field": "v", "type": "quantitative", "title": null}, "text": {"field": "t"}}}
]
}
]
}
